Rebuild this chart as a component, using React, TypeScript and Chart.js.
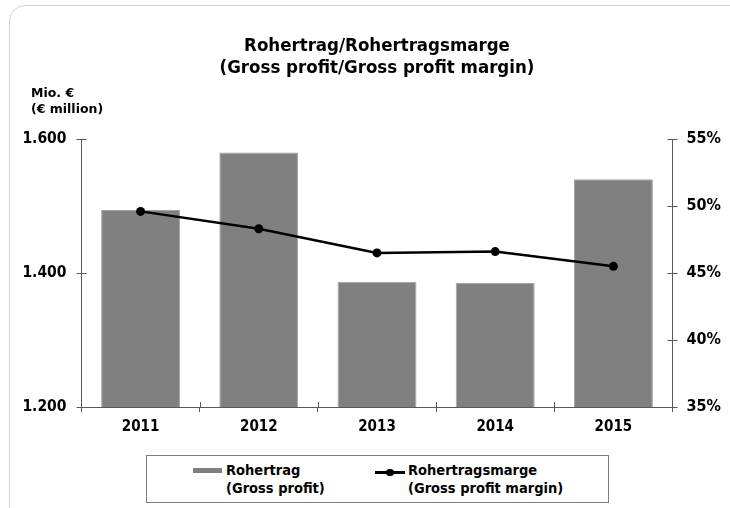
import React, { useEffect, useRef } from 'react';
import { Chart, registerables } from 'chart.js';

Chart.register(...registerables);

const years = ['2011', '2012', '2013', '2014', '2015'];
const grossProfit = [1494, 1580, 1387, 1385, 1540];
const grossMargin = [49.6, 48.3, 46.5, 46.6, 45.5];
const leftRange = [1200, 1600];
const leftStep = 200;
const rightRange = [35, 55];
const rightStep = 5;
const titleLines = ['Rohertrag/Rohertragsmarge', '(Gross profit/Gross profit margin)'];
const unitLines = ['Mio. €', '(€ million)'];
const barLabel = ['Rohertrag', '(Gross profit)'];
const lineLabel = ['Rohertragsmarge', '(Gross profit margin)'];

const FONT = "'DejaVu Sans Condensed', 'DejaVu Sans', sans-serif";
const AXIS = '#595959';
const BAR = '#808080';

const fmtThousands = (v: number) => String(v).replace(/\B(?=(\d{3})+(?!\d))/g, '.');

const crossTicks = {
  id: 'crossTicks',
  afterDatasetsDraw(chart: any) {
    const { ctx, chartArea: a } = chart;
    const x = chart.scales.x;
    const y = chart.scales.y;
    const y1 = chart.scales.y1;
    ctx.save();
    ctx.strokeStyle = AXIS;
    ctx.lineWidth = 1;
    ctx.beginPath();
    y.ticks.forEach((_: any, i: number) => {
      const p = Math.round(y.getPixelForTick(i)) + 0.5;
      ctx.moveTo(a.left, p);
      ctx.lineTo(a.left + 5, p);
    });
    y1.ticks.forEach((_: any, i: number) => {
      const p = Math.round(y1.getPixelForTick(i)) + 0.5;
      ctx.moveTo(a.right - 5, p);
      ctx.lineTo(a.right, p);
    });
    const w = x.width / years.length;
    for (let i = 1; i < years.length; i++) {
      const p = Math.round(x.left + i * w) + 0.5;
      ctx.moveTo(p, a.bottom - 5);
      ctx.lineTo(p, a.bottom);
    }
    ctx.stroke();
    ctx.restore();
  },
};

export default function App() {
  const ref = useRef<HTMLCanvasElement>(null);

  useEffect(() => {
    document.body.style.margin = '0';
    const canvas = ref.current!;
    const chart = new Chart(canvas, {
      type: 'bar',
      data: {
        labels: years,
        datasets: [
          {
            type: 'line',
            label: lineLabel.join(' '),
            data: grossMargin,
            yAxisID: 'y1',
            borderColor: '#000000',
            backgroundColor: '#000000',
            borderWidth: 2.5,
            pointRadius: 4.5,
            pointHoverRadius: 4.5,
            pointBackgroundColor: '#000000',
            pointBorderWidth: 0,
            tension: 0,
            order: 0,
          } as any,
          {
            type: 'bar',
            label: barLabel.join(' '),
            data: grossProfit,
            yAxisID: 'y',
            backgroundColor: BAR,
            borderColor: '#a3a3a3',
            borderWidth: 1,
            categoryPercentage: 1,
            barPercentage: 0.668,
            order: 1,
          } as any,
        ],
      },
      options: {
        animation: false,
        responsive: false,
        devicePixelRatio: 1,
        layout: { padding: 0 },
        plugins: {
          legend: { display: false },
          tooltip: { enabled: false },
          title: {
            display: true,
            text: titleLines,
            color: '#000000',
            font: { family: FONT, size: 18.5, weight: 'bold', lineHeight: 1.19 },
            padding: { top: 35, bottom: 60 },
          },
        },
        scales: {
          x: {
            type: 'category',
            offset: true,
            border: { display: true, color: AXIS, width: 1 },
            grid: {
              display: true,
              offset: true,
              drawOnChartArea: false,
              drawTicks: true,
              tickLength: 5,
              color: AXIS,
            },
            ticks: {
              color: '#000000',
              padding: 6,
              font: { family: FONT, size: 15, weight: 'bold' },
            },
            afterFit: (s: any) => {
              s.height = 101;
            },
          },
          y: {
            position: 'left',
            min: leftRange[0],
            max: leftRange[1],
            border: { display: true, color: AXIS, width: 1 },
            grid: { display: true, drawOnChartArea: false, drawTicks: true, tickLength: 5, color: AXIS },
            ticks: {
              stepSize: leftStep,
              color: '#000000',
              padding: 10,
              font: { family: FONT, size: 15.5, weight: 'bold' },
              callback: (v: any) => fmtThousands(Number(v)),
            },
            afterFit: (s: any) => {
              s.width = 81.5;
            },
          },
          y1: {
            position: 'right',
            min: rightRange[0],
            max: rightRange[1],
            border: { display: true, color: AXIS, width: 1 },
            grid: { display: true, drawOnChartArea: false, drawTicks: true, tickLength: 5, color: AXIS },
            ticks: {
              stepSize: rightStep,
              color: '#000000',
              padding: 9,
              font: { family: FONT, size: 16, weight: 'bold' },
              callback: (v: any) => `${v}%`,
            },
            afterFit: (s: any) => {
              s.width = 81.5;
            },
          },
        },
      },
      plugins: [crossTicks],
    } as any);
    return () => chart.destroy();
  }, []);

  const textStyle: React.CSSProperties = {
    position: 'absolute',
    fontFamily: FONT,
    fontWeight: 'bold',
    color: '#000',
    whiteSpace: 'nowrap',
  };

  return (
    <div style={{ position: 'fixed', left: 0, top: 0, width: 730, height: 508, overflow: 'hidden', background: '#fff' }}>
      <div
        style={{
          position: 'absolute',
          left: 9,
          top: 5,
          width: 800,
          height: 600,
          border: '1px solid #d3d3d3',
          borderRadius: 16,
          boxSizing: 'border-box',
        }}
      />
      <canvas ref={ref} width={754} height={508} style={{ position: 'absolute', left: 0, top: 0, width: 754, height: 508 }} />
      <div style={{ ...textStyle, left: 31, top: 85, fontSize: 12.5, lineHeight: '16px', fontFamily: "'DejaVu Sans', sans-serif" }}>
        {unitLines.map((l) => (
          <div key={l}>{l}</div>
        ))}
      </div>
      <div
        style={{
          position: 'absolute',
          left: 146,
          top: 455,
          width: 463,
          height: 48,
          border: '1px solid #7f7f7f',
          boxSizing: 'border-box',
          background: '#fff',
        }}
      />
      <div style={{ position: 'absolute', left: 193, top: 468, width: 29, height: 5, background: BAR }} />
      <div style={{ ...textStyle, left: 226, top: 462, fontSize: 14.5, lineHeight: '17.5px' }}>
        {barLabel.map((l) => (
          <div key={l}>{l}</div>
        ))}
      </div>
      <div style={{ position: 'absolute', left: 375, top: 471, width: 30, height: 2.5, background: '#000' }} />
      <div style={{ position: 'absolute', left: 386, top: 468.5, width: 7.5, height: 7.5, borderRadius: '50%', background: '#000' }} />
      <div style={{ ...textStyle, left: 408, top: 462, fontSize: 14.5, lineHeight: '17.5px' }}>
        {lineLabel.map((l) => (
          <div key={l}>{l}</div>
        ))}
      </div>
    </div>
  );
}
